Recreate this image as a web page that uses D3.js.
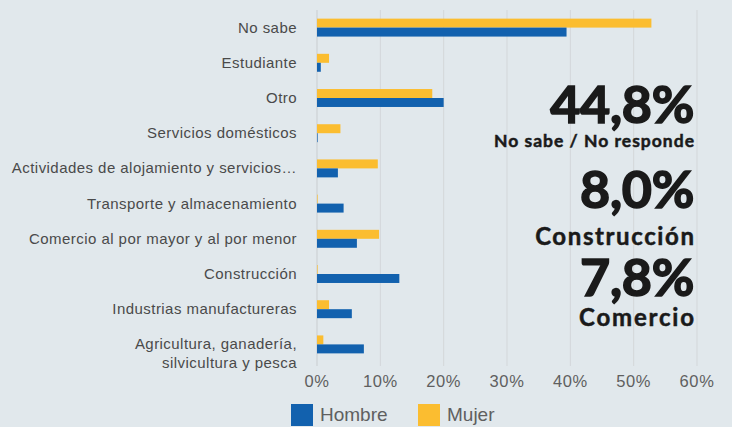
<!DOCTYPE html>
<html>
<head>
<meta charset="utf-8">
<script src="https://cdn.jsdelivr.net/npm/d3@7"></script>
<style>
  body { margin: 0; background: #e1e8ec; }
  svg { display: block; }
</style>
</head>
<body>
<svg width="732" height="427"></svg>
<script>
const categories = [
  'No sabe', 'Estudiante', 'Otro ', 'Servicios domésticos',
  'Actividades de alojamiento y servicios…', 'Transporte y almacenamiento',
  'Comercio al por mayor y al por menor', 'Construcción',
  'Industrias manufactureras', 'Agricultura, ganadería,|silvicultura y pesca'
]
const hombre = [39.4, 0.6, 20.0, 0.1, 3.3, 4.2, 6.3, 13.0, 5.5, 7.4]
const mujer = [52.8, 1.9, 18.2, 3.7, 9.6, 0.1, 9.8, 0.1, 1.9, 1.0]
const ticks = [0, 10, 20, 30, 40, 50, 60]
const seriesNames = ['Hombre', 'Mujer']
const highlights = [
  { value: '44,8%', label: 'No sabe / No responde' },
  { value: '8,0%', label: 'Construcción' },
  { value: '7,8%', label: 'Comercio' }
]

const colors = { Hombre: '#1261ae', Mujer: '#fbbd30' }
const svg = d3.select('svg')
svg.append('rect').attr('width', 732).attr('height', 427).attr('fill', '#e1e8ec')

const x = d3.scaleLinear().domain([0, 60]).range([317, 697])
const y = d3.scaleBand().domain(categories).range([10, 362]).paddingInner(0.49).paddingOuter(0.245)

// gridlines
svg.append('g')
  .selectAll('line')
  .data(ticks)
  .enter()
  .append('line')
  .attr('x1', d => x(d))
  .attr('x2', d => x(d))
  .attr('y1', 10)
  .attr('y2', 366)
  .attr('stroke', d => d === 0 ? '#c9cdd0' : '#d3d7da')
  .attr('stroke-width', 1)

// tick labels
svg.append('g')
  .selectAll('text')
  .data(ticks)
  .enter()
  .append('text')
  .attr('x', d => x(d))
  .attr('y', 387)
  .attr('text-anchor', 'middle')
  .attr('font-family', 'Liberation Sans, Arial, sans-serif')
  .attr('font-size', 16.5)
  .attr('letter-spacing', '0.6')
  .attr('fill', '#5f5f5f')
  .text(d => d + '%')

// bars
const bh = y.bandwidth() / 2
const rows = svg.append('g')
  .selectAll('g')
  .data(categories)
  .enter()
  .append('g')
  .attr('transform', d => `translate(0, ${y(d)})`)

rows.append('rect')
  .attr('x', x(0))
  .attr('y', 0)
  .attr('height', bh)
  .attr('width', (d, i) => x(mujer[i]) - x(0))
  .attr('fill', colors.Mujer)

rows.append('rect')
  .attr('x', x(0))
  .attr('y', bh)
  .attr('height', bh)
  .attr('width', (d, i) => x(hombre[i]) - x(0))
  .attr('fill', colors.Hombre)

// category labels
const labels = svg.append('g')
  .selectAll('text')
  .data(categories)
  .enter()
  .append('text')
  .attr('text-anchor', 'end')
  .attr('font-family', 'Liberation Sans, Arial, sans-serif')
  .attr('font-size', 15)
  .attr('fill', '#4a4a4a')
  .attr('letter-spacing', '0.45')

labels.selectAll('tspan')
  .data(d => d.split('|').map(t => ({ t, c: d })))
  .enter()
  .append('tspan')
  .attr('x', 297)
  .attr('y', (d, i) => y(d.c) + y.bandwidth() / 2 + 5 + i * 19)
  .text(d => d.t)

// highlight texts
const hl = svg.append('g')
  .attr('font-family', 'Lato, sans-serif')
  .attr('font-weight', 700)
  .attr('fill', '#1a1a1a')
  .attr('text-anchor', 'end')
const valY = [123, 208, 296]
const labY = [147, 245, 326]
const labSize = [17.5, 24, 24]
const labSpacing = [1, 1.6, 1.8]
highlights.forEach((h, i) => {
  hl.append('text')
    .attr('x', 694)
    .attr('y', valY[i])
    .attr('font-size', 52)
    .attr('letter-spacing', '-0.3')
    .attr('stroke', '#1a1a1a')
    .attr('stroke-width', 1.6)
    .text(h.value)
  hl.append('text')
    .attr('x', 694 + labSpacing[i])
    .attr('y', labY[i])
    .attr('font-size', labSize[i])
    .attr('letter-spacing', labSpacing[i])
    .attr('stroke', '#1a1a1a')
    .attr('stroke-width', 0.5)
    .text(h.label)
})

// legend
const legend = svg.append('g').attr('id', 'legend')
const lx = [291, 418]
seriesNames.forEach((s, i) => {
  legend.append('rect')
    .attr('x', lx[i])
    .attr('y', 404)
    .attr('width', 22)
    .attr('height', 22)
    .attr('fill', colors[s])
  legend.append('text')
    .attr('x', lx[i] + 29)
    .attr('y', 421)
    .attr('font-family', 'Liberation Sans, Arial, sans-serif')
    .attr('font-size', 19)
    .attr('fill', '#5f5f5f')
    .text(s)
})
</script>
</body>
</html>
